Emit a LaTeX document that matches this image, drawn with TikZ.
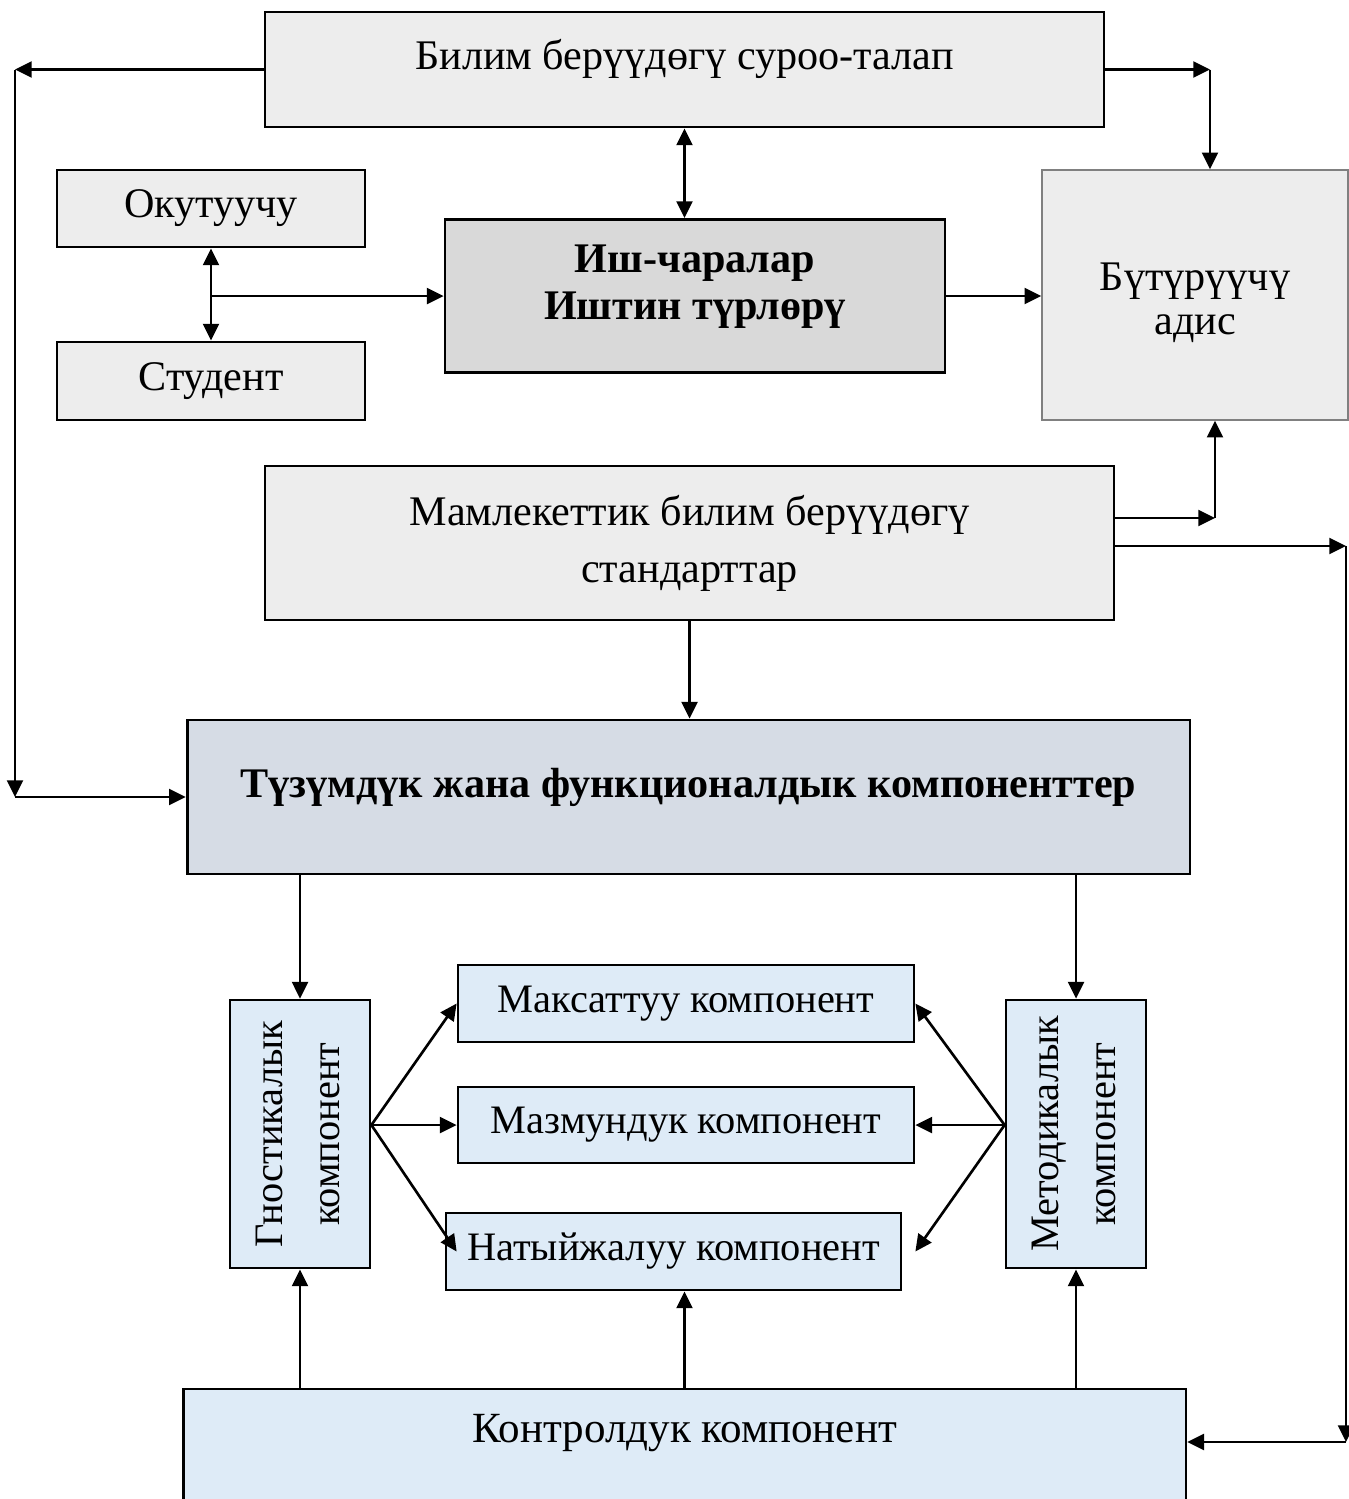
\documentclass[tikz,border=0pt]{standalone}
\usepackage{fontspec}
\setmainfont{Liberation Serif}
\usetikzlibrary{arrows.meta}
\definecolor{lgrey}{HTML}{EDEDED}
\definecolor{mgrey}{HTML}{D9D9D9}
\definecolor{slate}{HTML}{D6DCE5}
\definecolor{lblue}{HTML}{DEEBF7}

\begin{document}
\begin{tikzpicture}[x=0.02cm,y=-0.02cm,
        box/.style={draw,line width=1.6pt,inner sep=0pt,align=center,font=\fontsize{24}{27.3}\selectfont},
        greybox/.style={box,fill=lgrey},
        bluebox/.style={box,fill=lblue},
        smallbox/.style={bluebox,font=\fontsize{23}{27.3}\selectfont},
        arr/.style={line width=1.5pt,-{Triangle[length=9.5pt,width=9pt]}},
        dblarr/.style={line width=1.5pt,{Triangle[length=9.5pt,width=9pt]}-{Triangle[length=9.5pt,width=9pt]}}]
                \useasboundingbox (0,0) rectangle (1349,1499);
                \node[greybox,minimum width=16.78cm,minimum height=2.3cm,text height=17pt,text depth=17pt] (demand) at (684.5,69.5) {Билим берүүдөгү суроо-талап};
                \node[greybox,minimum width=6.16cm,minimum height=1.54cm] (teacher) at (211,208.5) {Окутуучу};
                \node[greybox,minimum width=6.16cm,minimum height=1.56cm] (student) at (211,381) {Студент};
                \node[box,fill=mgrey,minimum width=10cm,minimum height=3.06cm,text height=44.3pt,text depth=17pt,font=\fontsize{24}{27.3}\selectfont\bfseries] (activity) at (695,296) {Иш-чаралар\\Иштин түрлөрү};
                \node[box,fill=lgrey,draw=gray,line width=0.8pt,minimum width=6.12cm,minimum height=5cm,text height=52pt,text depth=6.5pt,font=\fontsize{24}{25.6}\selectfont] (graduate) at (1195,295) {Бүтүрүүчү\\адис};
                \node[greybox,minimum width=16.98cm,minimum height=3.08cm,font=\fontsize{24}{32.4}\selectfont] (standards) at (689.5,543) {Мамлекеттик билим берүүдөгү\\стандарттар};
                \node[box,fill=slate,minimum width=20.06cm,minimum height=3.08cm,text height=17pt,text depth=17pt,font=\fontsize{24}{27.3}\selectfont\bfseries] (structure) at (688.5,797) {Түзүмдүк жана функционалдык компоненттер};
                \node[bluebox,minimum width=2.8cm,minimum height=5.36cm,font=\fontsize{23}{32.4}\selectfont] (gnostic) at (300,1134) {\rotatebox{90}{\begin{tabular}{@{}c@{}}Гностикалык\\компонент\end{tabular}}};
                \node[bluebox,minimum width=2.8cm,minimum height=5.36cm,font=\fontsize{23}{32.4}\selectfont] (method) at (1076,1134) {\rotatebox{90}{\begin{tabular}{@{}c@{}}Методикалык\\компонент\end{tabular}}};
                \node[smallbox,minimum width=9.12cm,minimum height=1.54cm] (goal) at (686,1003.5) {Максаттуу компонент};
                \node[smallbox,minimum width=9.12cm,minimum height=1.52cm] (content) at (686,1125) {Мазмундук компонент};
                \node[smallbox,minimum width=9.1cm,minimum height=1.54cm] (result) at (673.5,1251.5) {Натыйжалуу компонент};
                \node[bluebox,minimum width=20.06cm,minimum height=2.32cm,text height=17pt,text depth=21.6pt,font=\fontsize{24.5}{27.3}\selectfont] (control) at (684.5,1447) {Контролдук компонент};
                \coordinate (lt) at (15,69.5);
                \coordinate (lb) at (15,797);
                \coordinate (rt) at (1210,69.5);
                \coordinate (rm) at (1215,518);
                \coordinate (rr) at (1346,546);
                \coordinate (rb) at (1346,1442);
                \coordinate (gout) at (gnostic.east |- content.west);
                \coordinate (mout) at (method.west |- content.east);
                \draw[arr] (demand.west) -- (lt);
                \draw[arr] (lt) -- (lb);
                \draw[arr] (lb) -- (structure.west);
                \draw[dblarr] (demand.south) -- (demand.south |- activity.north);
                \draw[dblarr] (teacher.south) -- (student.north);
                \draw[arr] (teacher.south |- activity.west) -- (activity.west);
                \draw[arr] (activity.east) -- (activity.east -| graduate.west);
                \draw[arr] (demand.east) -- (rt);
                \draw[arr] (rt) -- (rt |- graduate.north);
                \draw[arr] (standards.east |- rm) -- (rm);
                \draw[arr] (rm) -- (rm |- graduate.south);
                \draw[arr] (standards.east |- rr) -- (rr);
                \draw[arr] (rr) -- (rb);
                \draw[arr] (rb) -- (rb -| control.east);
                \draw[arr] (standards.south) -- (standards.south |- structure.north);
                \draw[arr] (gnostic.north |- structure.south) -- (gnostic.north);
                \draw[arr] (method.north |- structure.south) -- (method.north);
                \draw[arr] (gout) -- (goal.west);
                \draw[arr] (gout) -- (content.west);
                \draw[arr] (gout) -- (result.west -| goal.west);
                \draw[arr] (mout) -- (goal.east);
                \draw[arr] (mout) -- (content.east);
                \draw[arr] (mout) -- (result.east -| goal.east);
                \draw[arr] (control.north -| gnostic.south) -- (gnostic.south);
                \draw[arr] (control.north) -- (control.north |- result.south);
                \draw[arr] (control.north -| method.south) -- (method.south);
\end{tikzpicture}
\end{document}
